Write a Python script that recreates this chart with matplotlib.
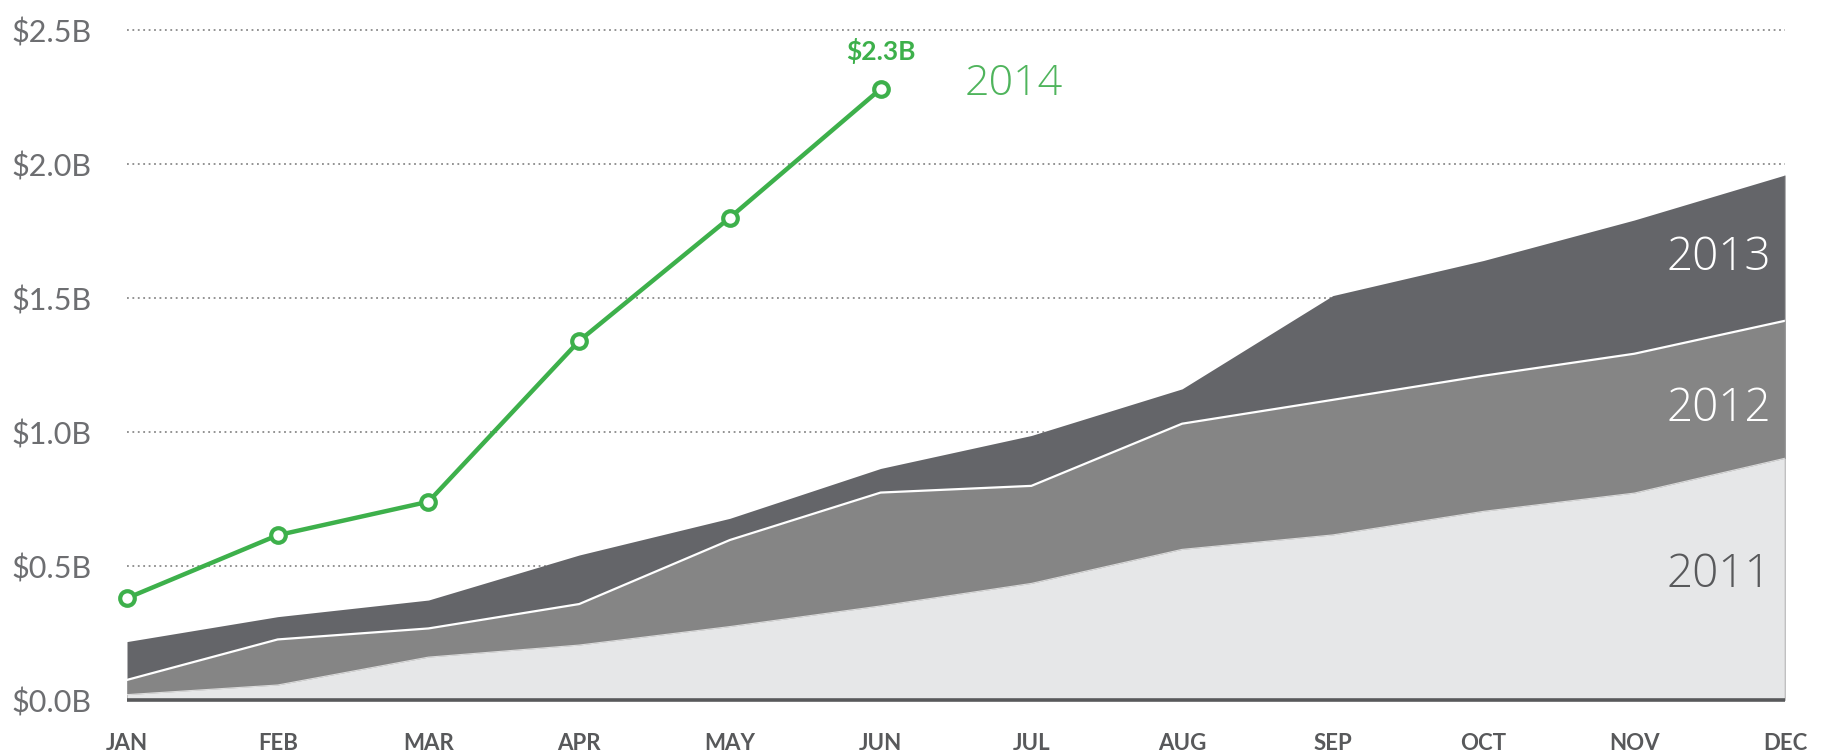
import numpy as np
import matplotlib
matplotlib.use("Agg")
import matplotlib.pyplot as plt

# --- data (cumulative $B per month) ---
months = ["JAN", "FEB", "MAR", "APR", "MAY", "JUN",
          "JUL", "AUG", "SEP", "OCT", "NOV", "DEC"]
cum_2011 = [0.02, 0.056, 0.16, 0.205, 0.274, 0.351,
            0.435, 0.562, 0.616, 0.704, 0.772, 0.902]
cum_2012 = [0.075, 0.226, 0.267, 0.358, 0.597, 0.774,
            0.799, 1.031, 1.120, 1.210, 1.292, 1.415]
cum_2013 = [0.218, 0.311, 0.373, 0.541, 0.678, 0.864,
            0.987, 1.161, 1.509, 1.640, 1.791, 1.959]
cum_2014 = [0.38, 0.615, 0.74, 1.34, 1.80, 2.28]
yticks = [0.0, 0.5, 1.0, 1.5, 2.0, 2.5]
ytick_labels = ["$0.0B", "$0.5B", "$1.0B", "$1.5B", "$2.0B", "$2.5B"]

plt.rcParams["font.family"] = ["Lato", "DejaVu Sans"]
year_font = ["Open Sans", "Lato", "DejaVu Sans"]

x = np.arange(len(months))
x14 = np.arange(len(cum_2014))

fig = plt.figure(figsize=(18.31, 7.55), dpi=100)
ax = fig.add_axes([127 / 1831, 55 / 755, 1658 / 1831, 696.8 / 755])
ax.set_xlim(0, 11)
ax.set_ylim(0, 2.6)

# dotted gridlines behind everything
for v in yticks[1:]:
    ax.axhline(v, color="#8a8a8a", lw=1.3, ls=(0, (1, 2)), zorder=0)

# overlapping cumulative areas, biggest first
ax.fill_between(x, 0, cum_2013, color="#646569", lw=0, zorder=1)
ax.fill_between(x, 0, cum_2012, color="#858585", lw=0, zorder=2)
ax.plot(x, cum_2012, color="white", lw=1.6, zorder=2.5)
ax.fill_between(x, 0, cum_2011, color="#e6e7e8", lw=0, zorder=3)
ax.plot(x, cum_2011, color="white", lw=0.8, alpha=0.7, zorder=3.5)
ax.axvline(11, ymin=0, ymax=cum_2013[-1] / 2.6, color="#9a9a9a", lw=1, zorder=3.6)

# baseline
ax.plot([0, 11], [0, 0], color="#58595b", lw=2.6, zorder=4,
        solid_capstyle="butt", clip_on=False)

# 2014 line
green = "#3db04b"
ax.plot(x14, cum_2014, color=green, lw=3.2, zorder=6, clip_on=False,
        marker="o", ms=10.5, mfc="white", mec=green, mew=3.0)

ax.text(x14[-1], cum_2014[-1] + 0.14, "$%.1fB" % cum_2014[-1],
        color=green, fontsize=19, fontweight="bold",
        ha="center", va="center", zorder=7)
ax.text(5.56, 2.30, "2014", color="#4fb45c", fontsize=31, family=year_font,
        fontweight="light", ha="left", va="center", zorder=7)

# series labels at right edge
ax.text(10.91, 1.65, "2013", color="white", fontsize=33, family=year_font,
        fontweight="light", ha="right", va="center", zorder=7)
ax.text(10.91, 1.087, "2012", color="white", fontsize=33, family=year_font,
        fontweight="light", ha="right", va="center", zorder=7)
ax.text(10.91, 0.468, "2011", color="#58595b", fontsize=33, family=year_font,
        fontweight="light", ha="right", va="center", zorder=7)

# ticks
ax.set_xticks(x)
ax.set_xticklabels(months, fontsize=16, color="#58595b")
ax.set_yticks(yticks)
ax.set_yticklabels(ytick_labels, fontsize=22, color="#6d6e71")
ax.tick_params(axis="x", length=0, pad=24)
ax.tick_params(axis="y", length=0, pad=83)
for tl in ax.get_yticklabels():
    tl.set_ha("left")
for tl in ax.get_xticklabels():
    tl.set_fontweight("bold")

for s in ax.spines.values():
    s.set_visible(False)
ax.set_facecolor("white")

fig.savefig("out.png", dpi=100, facecolor="white")
